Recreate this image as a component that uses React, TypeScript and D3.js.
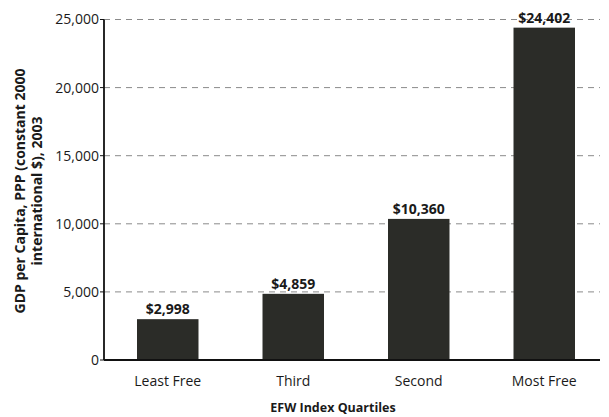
import React from "react";
import * as d3 from "d3";

const categories = ["Least Free", "Third", "Second", "Most Free"];
const values = [2998, 4859, 10360, 24402];
const valueLabels = ["$2,998", "$4,859", "$10,360", "$24,402"];
const yTicks = [0, 5000, 10000, 15000, 20000, 25000];

const W = 609;
const H = 417;
const FONT = "'Open Sans', 'Noto Sans', sans-serif";

export default function App() {
  const x0 = 104;
  const x1 = 600;
  const y = d3.scaleLinear().domain([0, 25000]).range([360, 19.5]);
  const x = d3
    .scaleBand<string>()
    .domain(categories)
    .range([105, 607])
    .paddingInner(0.51)
    .paddingOuter(0.255);
  const fmt = d3.format(",");

  return (
    <svg
      width={W}
      height={H}
      style={{ position: "absolute", left: 0, top: 0, background: "#fff" }}
      fontFamily={FONT}
    >
      {yTicks
        .filter((t) => t > 0)
        .map((t) => (
          <line
            key={"g" + t}
            x1={x0}
            x2={x1}
            y1={y(t)}
            y2={y(t)}
            stroke="#8a8a8a"
            strokeWidth={1}
            strokeDasharray="6,5"
          />
        ))}
      {categories.map((c, i) => (
        <rect
          key={c}
          x={x(c)}
          y={y(values[i])}
          width={x.bandwidth()}
          height={y(0) - y(values[i])}
          fill="#2b2c28"
        />
      ))}
      {categories.map((c, i) => (
        <text
          key={"v" + c}
          x={(x(c) as number) + x.bandwidth() / 2}
          y={y(values[i]) - 5}
          textAnchor="middle"
          fontSize={14}
          fontWeight="bold"
          fill="#1a1a1a"
        >
          {valueLabels[i]}
        </text>
      ))}
      <line x1={x0} x2={x0} y1={y(25000)} y2={y(0)} stroke="#111" strokeWidth={1.8} />
      <line x1={x0} x2={x1} y1={y(0)} y2={y(0)} stroke="#111" strokeWidth={1.8} />
      {yTicks.map((t) => (
        <g key={"t" + t}>
          <line x1={x0 - 4} x2={x0} y1={y(t)} y2={y(t)} stroke="#111" strokeWidth={1} />
          <text
            x={x0 - 5}
            y={y(t)}
            dy="0.35em"
            textAnchor="end"
            fontSize={14}
            fill="#1a1a1a"
          >
            {fmt(t)}
          </text>
        </g>
      ))}
      {categories.map((c) => (
        <text
          key={"c" + c}
          x={(x(c) as number) + x.bandwidth() / 2}
          y={386}
          textAnchor="middle"
          fontSize={14}
          fill="#1a1a1a"
        >
          {c}
        </text>
      ))}
      <text x={333} y={412} textAnchor="middle" fontSize={12.5} fontWeight="bold" fill="#1a1a1a">
        EFW Index Quartiles
      </text>
      <g transform="translate(25,191) rotate(-90)">
        <text x={0} y={0} textAnchor="middle" fontSize={14} fontWeight="bold" fill="#1a1a1a">
          GDP per Capita, PPP (constant 2000
        </text>
        <text x={0} y={17} textAnchor="middle" fontSize={14} fontWeight="bold" fill="#1a1a1a">
          international $), 2003
        </text>
      </g>
    </svg>
  );
}
